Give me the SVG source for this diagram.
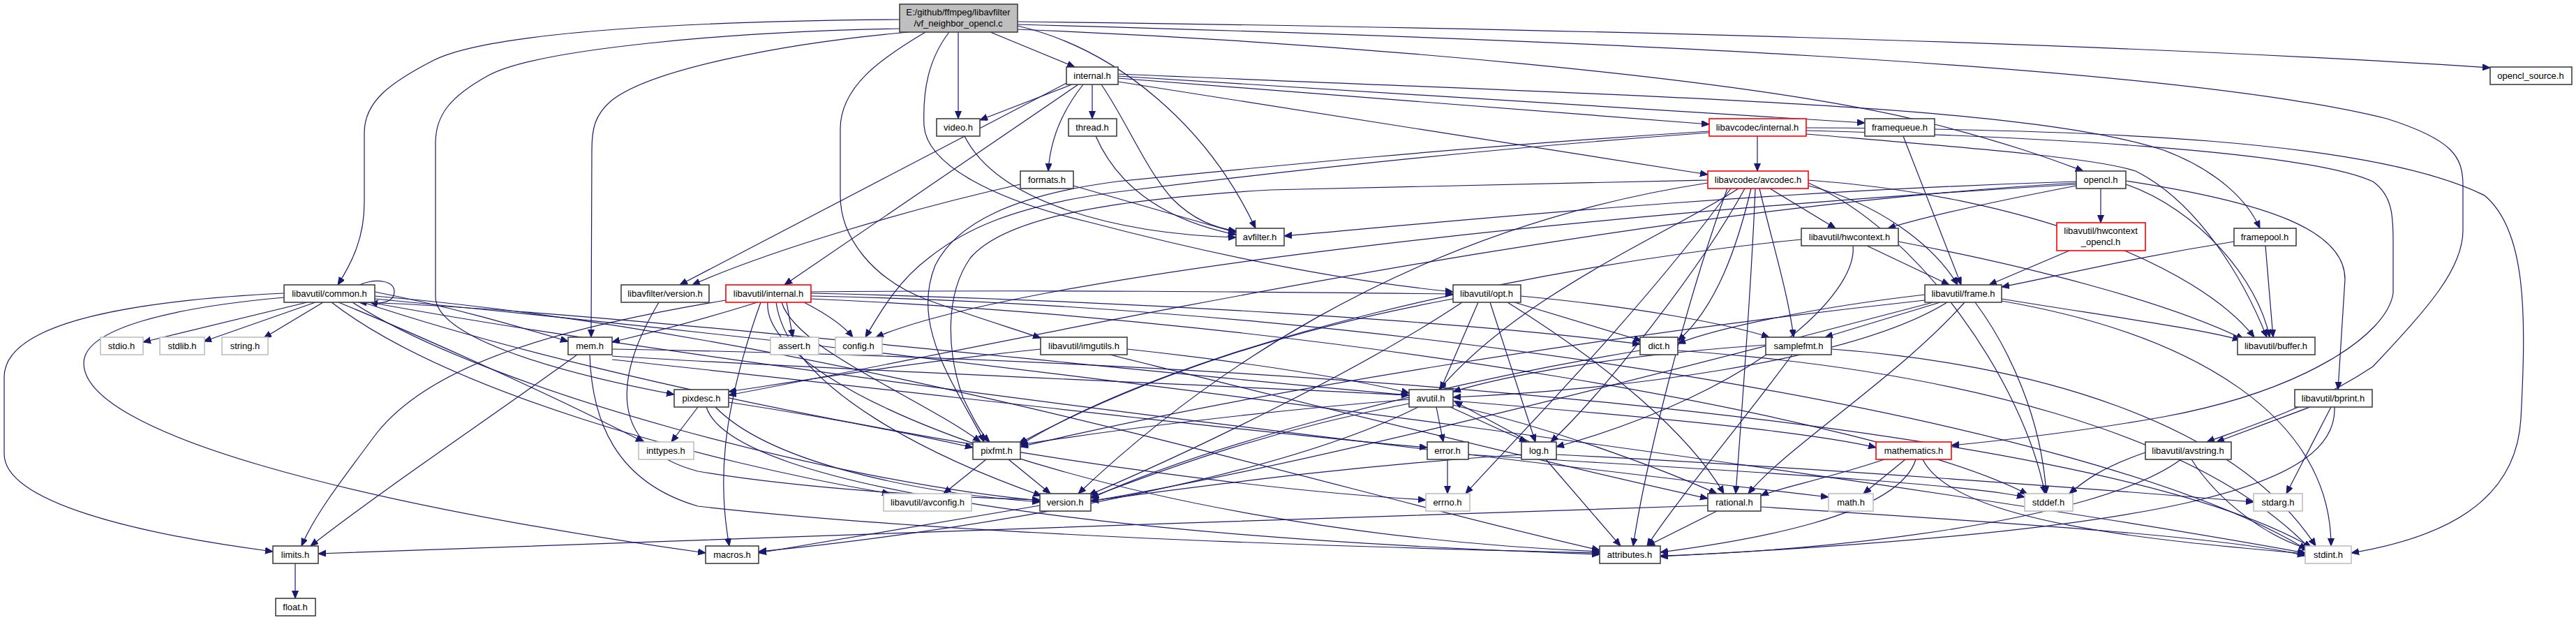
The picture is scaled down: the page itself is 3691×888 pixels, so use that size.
<svg xmlns="http://www.w3.org/2000/svg" width="3691" height="888" viewBox="0 0 3691 888">
<style>
.bg{fill:#ffffff}
.n rect{fill:#ffffff;stroke:#404040;stroke-width:1.6}
.n.r rect{stroke:#ff0000}
.n.g rect{stroke:#bfbfbf}
.n.root rect{fill:#bfbfbf}
.n text{font-family:"Liberation Sans",Arial,sans-serif;font-size:13px;fill:#000;text-anchor:middle}
.e path{fill:none;stroke:#191970;stroke-width:1.2;marker-end:url(#a)}
</style>
<defs>
<marker id="a" markerWidth="12" markerHeight="10" refX="11" refY="4.5" orient="auto" markerUnits="userSpaceOnUse"><path d="M0,0 L11,4.5 L0,9 z" fill="#191970" stroke="#191970" stroke-width="1"/></marker>
</defs>
<rect class="bg" x="0" y="0" width="3691" height="888"/>
<g id="connectors" class="e">
<path d="M1289,28 C1000,30 700,45 620,87 C560,118 522,145 522,190 L522,290 C522,340 505,375 484,408"/>
<path d="M1289,41 C1050,45 770,70 700,108 C645,138 624,165 624,205 L624,425 C624,480 780,530 966,565"/>
<path d="M1302,46 C1120,62 930,100 875,145 C852,165 848,185 848,215 L847,483"/>
<path d="M1326,46 C1260,85 1204,125 1204,185 L1204,280 C1204,340 1250,400 1330,430 C1400,455 1450,470 1491,484"/>
<path d="M1373,46 L1373,170"/>
<path d="M1419,46 L1540,96"/>
<path d="M1458,37 C1600,70 1730,180 1799,327"/>
<path d="M1360,46 C1330,85 1322,130 1324,180 C1328,235 1420,285 1560,318 C1720,360 1900,400 2082,418"/>
<path d="M1458,42 C1900,60 2500,110 2760,175 C2880,205 2950,232 2985,245"/>
<path d="M1458,35 C2200,55 3100,90 3420,170 C3515,200 3529,225 3529,265 L3529,330 C3529,385 3480,440 3400,525 C3310,585 3210,615 3162,633"/>
<path d="M1458,31 C2200,40 3000,60 3568,97"/>
<path d="M1536,121 L1404,172"/>
<path d="M1565,121 L1565,170"/>
<path d="M1552,121 C1525,155 1505,195 1502,245"/>
<path d="M1578,121 C1615,175 1640,240 1680,285 C1710,315 1740,326 1771,331"/>
<path d="M1530,118 L974,408"/>
<path d="M1545,121 L1124,408"/>
<path d="M1602,112 L2449,178"/>
<path d="M1602,109 L2672,176"/>
<path d="M1602,106 C2400,140 2900,150 3100,215 C3180,245 3222,290 3238,327"/>
<path d="M1602,117 L2447,250"/>
<path d="M1382,195 C1430,290 1600,335 1771,340"/>
<path d="M1570,195 C1605,275 1680,318 1771,336"/>
<path d="M1538,266 L1771,333"/>
<path d="M1462,264 C1300,300 1100,360 992,408"/>
<path d="M2975,260 C2500,275 2100,315 1840,338"/>
<path d="M2518,195 L2518,245"/>
<path d="M2588,187 C2900,195 3300,215 3400,260 C3428,280 3429,310 3429,345 L3429,420 C3420,480 3300,560 3100,597 C3000,615 2880,630 2796,638"/>
<path d="M2588,192 C2800,210 3000,225 3060,245 C3150,290 3215,400 3248,483"/>
<path d="M2588,183 C3000,185 3400,200 3560,280 C3620,330 3620,450 3612,600 C3605,720 3500,770 3369,792"/>
<path d="M2449,188 C2100,210 1800,240 1600,260 C1450,280 1370,320 1340,380 C1320,430 1330,480 1360,540 C1380,580 1400,610 1410,633"/>
<path d="M2449,190 C2100,215 1800,250 1600,275 C1450,295 1380,330 1330,370 C1290,400 1265,440 1240,483"/>
<path d="M2536,270 L2630,327"/>
<path d="M2591,266 C2690,290 2770,350 2805,408"/>
<path d="M2521,270 C2540,350 2562,420 2570,483"/>
<path d="M2509,270 C2490,350 2460,440 2404,488"/>
<path d="M2491,270 C2400,330 2180,420 2062,558"/>
<path d="M2500,270 C2440,380 2300,560 2222,633"/>
<path d="M2475,270 C2420,420 2360,650 2340,782"/>
<path d="M2447,258 C2200,262 1950,268 1820,272 C1600,285 1440,310 1390,370 C1355,420 1355,500 1380,570 C1395,600 1405,620 1418,633"/>
<path d="M2447,262 C2000,330 1700,560 1545,707"/>
<path d="M2515,270 C2510,400 2495,600 2487,707"/>
<path d="M2480,270 C2350,450 2150,650 2100,707"/>
<path d="M2591,258 C2900,280 3150,380 3230,483"/>
<path d="M2591,262 C2750,330 2900,550 2930,707"/>
<path d="M3010,270 L3010,319"/>
<path d="M2975,266 C2850,290 2760,310 2705,327"/>
<path d="M3046,264 C3150,300 3235,400 3252,483"/>
<path d="M3046,259 C3250,290 3360,330 3360,400 L3350,558"/>
<path d="M2975,262 C2300,300 1500,480 1044,566"/>
<path d="M2975,264 C2200,310 1450,400 1255,483"/>
<path d="M2675,352 L2793,408"/>
<path d="M2720,346 C2900,380 3100,430 3215,486"/>
<path d="M2655,352 C2662,420 2520,560 2230,640"/>
<path d="M2581,343 C2200,380 1700,490 1462,637"/>
<path d="M2965,359 L2850,408"/>
<path d="M3246,352 L3257,483"/>
<path d="M3201,346 C3050,370 2950,395 2868,411"/>
<path d="M2727,195 L2810,408"/>
<path d="M2758,422 C2600,440 2460,470 2404,492"/>
<path d="M2780,433 L2615,483"/>
<path d="M2790,433 C2650,520 2300,560 2082,569"/>
<path d="M2868,428 C3000,450 3150,470 3210,487"/>
<path d="M2868,431 C3150,480 3340,600 3340,782"/>
<path d="M2830,433 C2880,500 2925,600 2932,707"/>
<path d="M2815,433 C2720,540 2560,640 2505,707"/>
<path d="M2758,430 C2300,480 1800,560 1462,640"/>
<path d="M2770,433 C2400,530 1900,660 1563,718"/>
<path d="M2404,502 C2800,530 3150,620 3310,786"/>
<path d="M2350,502 C2000,560 1700,650 1563,714"/>
<path d="M2530,494 C2300,510 2150,540 2082,561"/>
<path d="M2568,508 C2500,600 2400,720 2360,782"/>
<path d="M2624,500 C2900,520 3200,600 3318,782"/>
<path d="M2118,433 L2064,558"/>
<path d="M2135,433 L2200,633"/>
<path d="M2170,433 L2352,488"/>
<path d="M2179,424 C2350,440 2480,465 2535,483"/>
<path d="M2160,433 C2300,520 2420,620 2470,707"/>
<path d="M2082,428 C1800,480 1600,560 1460,635"/>
<path d="M2095,433 C1950,530 1700,650 1560,709"/>
<path d="M1615,500 C1800,520 1950,545 2019,563"/>
<path d="M1491,500 C1300,520 1150,545 1044,561"/>
<path d="M1590,508 C1800,560 2200,660 2447,714"/>
<path d="M1000,583 L962,633"/>
<path d="M1044,576 C1200,600 1300,620 1394,641"/>
<path d="M1025,583 C1100,660 1300,705 1490,719"/>
<path d="M1012,583 C1050,700 1600,770 2292,794"/>
<path d="M2058,583 L2068,633"/>
<path d="M2078,583 L2188,633"/>
<path d="M2192,633 L2084,575"/>
<path d="M2019,566 C1500,520 800,440 514,433"/>
<path d="M2082,580 C2250,620 2400,680 2460,707"/>
<path d="M2019,578 C1800,620 1650,680 1563,712"/>
<path d="M2032,583 C1800,700 1300,770 1087,790"/>
<path d="M2082,574 C2400,600 2600,620 2688,641"/>
<path d="M2019,572 C1800,590 1600,615 1462,637"/>
<path d="M2074,658 L2074,707"/>
<path d="M2104,651 C2400,670 2800,690 2901,712"/>
<path d="M2215,658 L2322,782"/>
<path d="M2230,651 C2600,670 3000,700 3229,719"/>
<path d="M2180,651 C1900,670 1700,700 1563,717"/>
<path d="M2730,658 L2670,707"/>
<path d="M2700,658 C2620,685 2545,700 2523,710"/>
<path d="M2745,658 C2720,740 2500,775 2379,791"/>
<path d="M2755,658 C2800,750 3100,775 3303,793"/>
<path d="M2447,724 C1800,745 800,780 456,793"/>
<path d="M2460,732 L2360,782"/>
<path d="M2523,726 C2900,750 3200,770 3303,796"/>
<path d="M827,508 C700,600 550,700 445,782"/>
<path d="M877,510 C1200,530 1700,550 2019,566"/>
<path d="M877,515 C1300,560 1800,620 2045,641"/>
<path d="M877,500 C1800,515 3000,600 3312,784"/>
<path d="M845,508 C848,600 880,690 1000,725 C1400,770 2000,785 2292,792"/>
<path d="M1127,433 L1136,483"/>
<path d="M1152,433 C1185,450 1210,468 1222,483"/>
<path d="M1085,433 C1000,460 930,477 877,490"/>
<path d="M1040,430 C800,470 620,520 540,620 C480,700 450,740 432,782"/>
<path d="M1120,433 C1140,500 1320,570 1405,633"/>
<path d="M1112,433 C1130,560 1350,660 1492,710"/>
<path d="M1100,433 C1090,560 1600,760 2292,790"/>
<path d="M1162,424 C2000,440 3000,600 3305,787"/>
<path d="M1162,428 C1900,460 2700,600 2905,708"/>
<path d="M1162,420 C1600,430 2100,460 2350,493"/>
<path d="M1162,418 C1500,415 1800,418 2082,421"/>
<path d="M1090,433 C1030,600 1030,700 1045,782"/>
<path d="M440,433 L205,490"/>
<path d="M452,433 L292,489"/>
<path d="M463,433 L378,484"/>
<path d="M407,420 C200,430 6,460 6,540 L6,650 C6,720 200,765 391,790"/>
<path d="M485,433 C600,480 800,570 922,633"/>
<path d="M520,433 C900,560 1600,690 2043,716"/>
<path d="M530,433 C1000,520 2000,640 2620,712"/>
<path d="M537,428 C1500,520 2800,700 3303,792"/>
<path d="M537,424 C1200,480 1900,700 2292,788"/>
<path d="M407,426 C250,440 120,470 120,520 C120,620 500,720 1011,792"/>
<path d="M505,433 C700,560 1200,690 1490,717"/>
<path d="M475,433 C640,560 1000,660 1275,707"/>
<path d="M537,418 C650,440 750,470 814,489"/>
<path d="M515,408 C540,398 565,402 565,418 C565,432 548,436 530,433"/>
<path d="M1490,724 L1087,792"/>
<path d="M1413,658 L1352,707"/>
<path d="M1445,658 L1505,707"/>
<path d="M423,807 L423,857"/>
<path d="M3340,583 L3276,707"/>
<path d="M3310,583 L3176,633"/>
<path d="M3345,583 C3350,700 3100,760 2379,797"/>
<path d="M3074,648 C3010,670 2985,690 2965,707"/>
<path d="M3140,658 C3180,720 3250,770 3310,787"/>
<path d="M3125,658 C3000,750 2600,790 2379,796"/>
<path d="M944,433 C880,540 870,640 1000,675 C1150,700 1350,712 1490,716"/>
</g>
<g id="root" class="n root"><rect x="1289" y="6" width="169" height="40"/><text x="1373" y="22">E:/github/ffmpeg/libavfilter</text><text x="1373" y="38">/vf_neighbor_opencl.c</text></g>
<g id="internal_h" class="n"><rect x="1528" y="96" width="74" height="25"/><text x="1565" y="113">internal.h</text></g>
<g id="opencl_source_h" class="n"><rect x="3568" y="96" width="117" height="25"/><text x="3626" y="113">opencl_source.h</text></g>
<g id="video_h" class="n"><rect x="1342" y="170" width="62" height="25"/><text x="1373" y="187">video.h</text></g>
<g id="thread_h" class="n"><rect x="1531" y="170" width="69" height="25"/><text x="1565" y="187">thread.h</text></g>
<g id="lavc_internal_h" class="n r"><rect x="2449" y="170" width="139" height="25"/><text x="2518" y="187">libavcodec/internal.h</text></g>
<g id="framequeue_h" class="n"><rect x="2672" y="170" width="100" height="25"/><text x="2722" y="187">framequeue.h</text></g>
<g id="formats_h" class="n"><rect x="1462" y="245" width="76" height="25"/><text x="1500" y="262">formats.h</text></g>
<g id="avcodec_h" class="n r"><rect x="2447" y="245" width="144" height="25"/><text x="2519" y="262">libavcodec/avcodec.h</text></g>
<g id="opencl_h" class="n"><rect x="2975" y="245" width="71" height="25"/><text x="3010" y="262">opencl.h</text></g>
<g id="avfilter_h" class="n"><rect x="1771" y="327" width="69" height="25"/><text x="1805" y="344">avfilter.h</text></g>
<g id="hwcontext_h" class="n"><rect x="2581" y="327" width="139" height="25"/><text x="2650" y="344">libavutil/hwcontext.h</text></g>
<g id="hwcontext_opencl_h" class="n r"><rect x="2947" y="319" width="127" height="40"/><text x="3010" y="335">libavutil/hwcontext</text><text x="3010" y="351">_opencl.h</text></g>
<g id="framepool_h" class="n"><rect x="3201" y="327" width="89" height="25"/><text x="3245" y="344">framepool.h</text></g>
<g id="common_h" class="n"><rect x="407" y="408" width="130" height="25"/><text x="472" y="425">libavutil/common.h</text></g>
<g id="lavfi_version_h" class="n"><rect x="890" y="408" width="126" height="25"/><text x="953" y="425">libavfilter/version.h</text></g>
<g id="lavu_internal_h" class="n r"><rect x="1040" y="408" width="122" height="25"/><text x="1101" y="425">libavutil/internal.h</text></g>
<g id="opt_h" class="n"><rect x="2082" y="408" width="97" height="25"/><text x="2130" y="425">libavutil/opt.h</text></g>
<g id="frame_h" class="n"><rect x="2758" y="408" width="110" height="25"/><text x="2813" y="425">libavutil/frame.h</text></g>
<g id="stdio_h" class="n g"><rect x="144" y="483" width="61" height="25"/><text x="174" y="500">stdio.h</text></g>
<g id="stdlib_h" class="n g"><rect x="229" y="483" width="64" height="25"/><text x="261" y="500">stdlib.h</text></g>
<g id="string_h" class="n g"><rect x="318" y="483" width="66" height="25"/><text x="351" y="500">string.h</text></g>
<g id="mem_h" class="n"><rect x="814" y="483" width="63" height="25"/><text x="845" y="500">mem.h</text></g>
<g id="assert_h" class="n g"><rect x="1104" y="483" width="69" height="25"/><text x="1138" y="500">assert.h</text></g>
<g id="config_h" class="n g"><rect x="1197" y="483" width="67" height="25"/><text x="1230" y="500">config.h</text></g>
<g id="imgutils_h" class="n"><rect x="1491" y="483" width="124" height="25"/><text x="1553" y="500">libavutil/imgutils.h</text></g>
<g id="dict_h" class="n"><rect x="2350" y="483" width="54" height="25"/><text x="2377" y="500">dict.h</text></g>
<g id="samplefmt_h" class="n"><rect x="2530" y="483" width="94" height="25"/><text x="2577" y="500">samplefmt.h</text></g>
<g id="buffer_h" class="n"><rect x="3206" y="483" width="111" height="25"/><text x="3261" y="500">libavutil/buffer.h</text></g>
<g id="pixdesc_h" class="n"><rect x="966" y="558" width="78" height="25"/><text x="1005" y="575">pixdesc.h</text></g>
<g id="avutil_h" class="n"><rect x="2019" y="558" width="63" height="25"/><text x="2050" y="575">avutil.h</text></g>
<g id="bprint_h" class="n"><rect x="3288" y="558" width="111" height="25"/><text x="3343" y="575">libavutil/bprint.h</text></g>
<g id="inttypes_h" class="n g"><rect x="915" y="633" width="79" height="25"/><text x="954" y="650">inttypes.h</text></g>
<g id="pixfmt_h" class="n"><rect x="1394" y="633" width="68" height="25"/><text x="1428" y="650">pixfmt.h</text></g>
<g id="error_h" class="n"><rect x="2045" y="633" width="59" height="25"/><text x="2074" y="650">error.h</text></g>
<g id="log_h" class="n"><rect x="2180" y="633" width="50" height="25"/><text x="2205" y="650">log.h</text></g>
<g id="mathematics_h" class="n r"><rect x="2688" y="633" width="108" height="25"/><text x="2742" y="650">mathematics.h</text></g>
<g id="avstring_h" class="n"><rect x="3074" y="633" width="123" height="25"/><text x="3135" y="650">libavutil/avstring.h</text></g>
<g id="avconfig_h" class="n g"><rect x="1266" y="707" width="126" height="25"/><text x="1329" y="724">libavutil/avconfig.h</text></g>
<g id="version_h" class="n"><rect x="1490" y="707" width="73" height="25"/><text x="1526" y="724">version.h</text></g>
<g id="errno_h" class="n g"><rect x="2043" y="707" width="63" height="25"/><text x="2074" y="724">errno.h</text></g>
<g id="rational_h" class="n"><rect x="2447" y="707" width="76" height="25"/><text x="2485" y="724">rational.h</text></g>
<g id="math_h" class="n g"><rect x="2620" y="707" width="64" height="25"/><text x="2652" y="724">math.h</text></g>
<g id="stddef_h" class="n g"><rect x="2901" y="707" width="69" height="25"/><text x="2935" y="724">stddef.h</text></g>
<g id="stdarg_h" class="n g"><rect x="3229" y="707" width="70" height="25"/><text x="3264" y="724">stdarg.h</text></g>
<g id="limits_h" class="n"><rect x="391" y="782" width="65" height="25"/><text x="423" y="799">limits.h</text></g>
<g id="macros_h" class="n"><rect x="1011" y="782" width="76" height="25"/><text x="1049" y="799">macros.h</text></g>
<g id="attributes_h" class="n"><rect x="2292" y="782" width="87" height="25"/><text x="2335" y="799">attributes.h</text></g>
<g id="stdint_h" class="n g"><rect x="3303" y="782" width="66" height="25"/><text x="3336" y="799">stdint.h</text></g>
<g id="float_h" class="n"><rect x="395" y="857" width="57" height="25"/><text x="423" y="874">float.h</text></g>
</svg>
